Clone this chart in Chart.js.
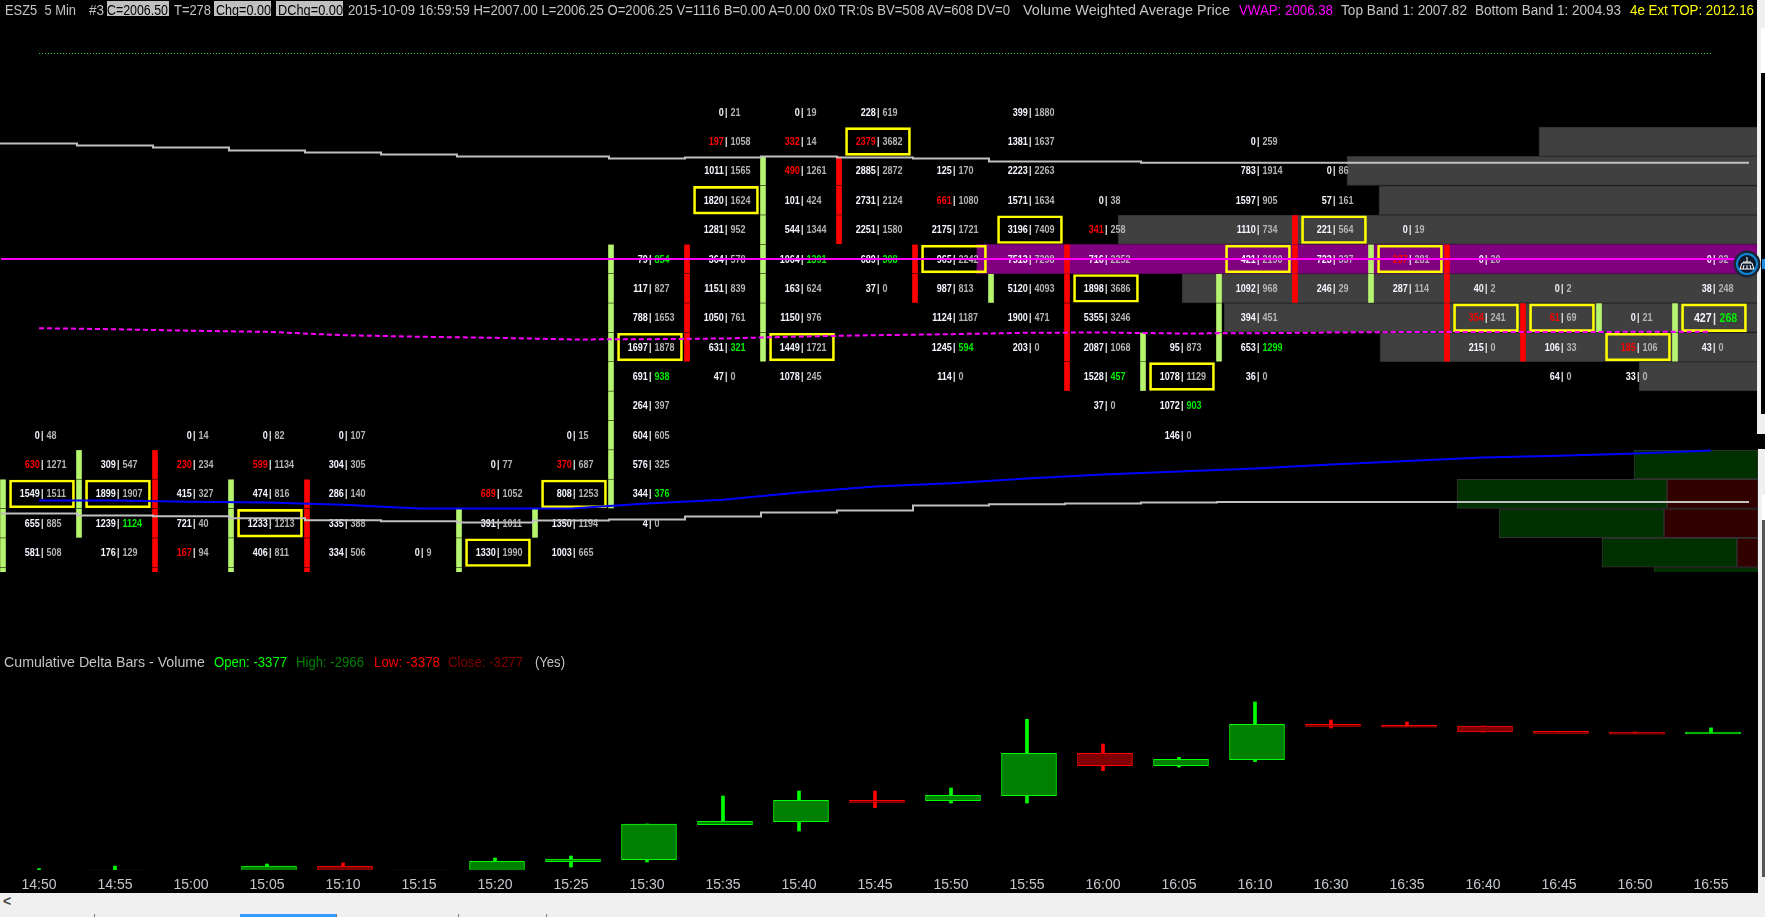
<!DOCTYPE html>
<html>
<head>
<meta charset="utf-8">
<title>ESZ5 5 Min</title>
<script src="https://cdn.jsdelivr.net/npm/chart.js@4/dist/chart.umd.min.js"></script>
<style>
  html, body { margin: 0; padding: 0; background: #000; width: 1765px; height: 917px; overflow: hidden; }
  #wrap { position: absolute; left: 0; top: 0; width: 1758px; height: 893px; }
  .t { position: absolute; white-space: pre; font: 14px 'Liberation Sans', sans-serif; color: #c4c4c4; line-height: 16px; transform-origin: 0 0; }
  .box { position: absolute; }
</style>
</head>
<body>
<div id="wrap"><canvas id="chart" width="1758" height="893"></canvas></div>

<!-- header line -->
<div class="box" style="left:107px;top:1px;width:62px;height:15px;background:#c0c0c0"></div>
<div class="box" style="left:214px;top:1px;width:57px;height:15px;background:#c0c0c0"></div>
<div class="box" style="left:276px;top:1px;width:67px;height:15px;background:#c0c0c0"></div>
<div class="t" data-w="71" style="left:5px;top:2px">ESZ5  5 Min</div>
<div class="t" data-w="15" style="left:89px;top:2px">#3</div>
<div class="t" data-w="61" style="left:107px;top:2px;color:#000">C=2006.50</div>
<div class="t" data-w="37" style="left:174px;top:2px">T=278</div>
<div class="t" data-w="55" style="left:216px;top:2px;color:#000">Chg=0.00</div>
<div class="t" data-w="65" style="left:278px;top:2px;color:#000">DChg=0.00</div>
<div class="t" data-w="662" style="left:348px;top:2px">2015-10-09 16:59:59 H=2007.00 L=2006.25 O=2006.25 V=1116 B=0.00 A=0.00 0x0 TR:0s BV=508 AV=608 DV=0</div>
<div class="t" data-w="207" style="left:1023px;top:2px">Volume Weighted Average Price</div>
<div class="t" data-w="94" style="left:1239px;top:2px;color:#ff00ff">VWAP: 2006.38</div>
<div class="t" data-w="126" style="left:1341px;top:2px">Top Band 1: 2007.82</div>
<div class="t" data-w="146" style="left:1475px;top:2px">Bottom Band 1: 2004.93</div>
<div class="t" data-w="124" style="left:1630px;top:2px;color:#ffff00">4e Ext TOP: 2012.16</div>

<!-- delta pane legend -->
<div class="t" data-w="201" style="left:4px;top:654px">Cumulative Delta Bars - Volume</div>
<div class="t" data-w="73" style="left:214px;top:654px;color:#00ff00">Open: -3377</div>
<div class="t" data-w="68" style="left:296px;top:654px;color:#008000">High: -2966</div>
<div class="t" data-w="66" style="left:374px;top:654px;color:#ff0000">Low: -3378</div>
<div class="t" data-w="75" style="left:448px;top:654px;color:#800000">Close: -3277</div>
<div class="t" data-w="30" style="left:535px;top:654px">(Yes)</div>

<!-- window chrome -->
<div class="box" style="left:0;top:893px;width:1765px;height:24px;background:#f0f0f0"></div>
<div class="t" style="left:3px;top:893px;color:#444;font-weight:bold">&lt;</div>
<div class="box" style="left:240px;top:914px;width:96px;height:3px;background:#3399ff"></div>
<div class="box" style="left:94px;top:914px;width:1px;height:3px;background:#777"></div>
<div class="box" style="left:336px;top:914px;width:1px;height:3px;background:#777"></div>
<div class="box" style="left:458px;top:914px;width:1px;height:3px;background:#777"></div>
<div class="box" style="left:546px;top:914px;width:1px;height:3px;background:#777"></div>
<div class="box" style="left:1757px;top:0;width:8px;height:434px;background:#f0f0f0"></div>
<div class="box" style="left:1761px;top:28px;width:4px;height:45px;background:#fff"></div>
<div class="box" style="left:1761px;top:73px;width:4px;height:341px;background:#000"></div>
<div class="box" style="left:1758px;top:449px;width:7px;height:448px;background:#f0f0f0"></div>
<div class="box" style="left:1762px;top:495px;width:3px;height:25px;background:#fff"></div>
<div class="box" style="left:1762px;top:520px;width:3px;height:357px;background:#555"></div>
<div class="box" style="left:1762px;top:259px;width:3px;height:10px;background:#1c8fe0"></div>
<svg class="box" style="left:1733px;top:250px" width="28" height="28" viewBox="0 0 28 28">
  <circle cx="14" cy="14" r="13.5" fill="#1b2636"/>
  <circle cx="14" cy="14" r="10" fill="#0c1a2b" stroke="#0f86d6" stroke-width="2"/>
  <path d="M14 7v5M10 12h8M9 13l-2 6h14l-2-6zM11 15l-1 4M14 15v4M17 15l1 4" stroke="#fff" stroke-width="1" fill="none"/>
</svg>

<script>
const timeLabels = ['14:50','14:55','15:00','15:05','15:10','15:15','15:20','15:25','15:30','15:35','15:40','15:45','15:50','15:55','16:00','16:05','16:10','16:30','16:35','16:40','16:45','16:50','16:55'];

// footprint: highest traded price of each bar, then bid / ask volume per tick going down
const tickSize = 0.25;
const barHighs = [2005.50,2005.25,2005.50,2005.50,2005.50,2004.50,2005.25,2005.50,2007.00,2008.25,2008.25,2008.25,2007.75,2008.25,2007.50,2006.25,2008.00,2007.75,2007.25,2007.00,2006.75,2006.50,2007.00];
const bids = [
  [0,630,1549,655,581],
  [309,1899,1239,176],
  [0,230,415,721,167],
  [0,599,474,1233,406],
  [0,304,286,335,334],
  [0],
  [0,689,391,1330],
  [0,370,808,1350,1003],
  [79,117,788,1697,691,264,604,576,344,4],
  [0,197,1011,1820,1281,364,1151,1050,631,47],
  [0,332,490,101,544,1064,163,1150,1449,1078],
  [228,2379,2885,2731,2251,689,37],
  [125,661,2175,965,987,1124,1245,114],
  [399,1381,2223,1571,3196,7513,5120,1900,203],
  [0,341,716,1898,5355,2087,1528,37],
  [95,1078,1072,146],
  [0,783,1597,1110,421,1092,394,653,36],
  [0,57,221,723,246],
  [0,237,287],
  [0,40,354,215],
  [0,61,106,64],
  [0,185,33],
  [0,38,427,43]
];
const asks = [
  [48,1271,1511,885,508],
  [547,1907,1124,129],
  [14,234,327,40,94],
  [82,1134,816,1213,811],
  [107,305,140,388,506],
  [9],
  [77,1052,1011,1990],
  [15,687,1253,1194,665],
  [854,827,1653,1878,938,397,605,325,376,0],
  [21,1058,1565,1624,952,578,839,761,321,0],
  [19,14,1261,424,1344,1391,624,976,1721,245],
  [619,3682,2872,2124,1580,308,0],
  [170,1080,1721,2242,813,1187,594,0],
  [1880,1637,2263,1634,7409,7298,4093,471,0],
  [38,258,2252,3686,3246,1068,457,0],
  [873,1129,903,0],
  [259,1914,905,734,2190,968,451,1299,0],
  [86,161,564,337,29],
  [19,281,114],
  [20,2,241,0],
  [2,69,33,0],
  [21,106,0],
  [92,248,268,0]
];

// [bar, price] of the flagged cells
const sellImbalance = [[0,2005.25],[2,2005.25],[2,2004.50],[3,2005.25],[6,2005.00],[7,2005.25],[9,2008.00],[10,2008.00],[10,2007.75],[11,2008.00],[12,2007.50],[14,2007.25],[18,2007.00],[19,2006.50],[20,2006.50],[21,2006.25]];
const buyImbalance = [[1,2004.75],[8,2007.00],[8,2006.00],[8,2005.00],[9,2006.25],[10,2007.00],[11,2007.00],[12,2006.25],[14,2006.00],[15,2005.75],[16,2006.25],[22,2006.50]];
const boxedCells = [[0,2005.00],[1,2005.00],[3,2004.75],[6,2004.50],[7,2005.00],[8,2006.25],[9,2007.50],[10,2006.25],[11,2008.00],[12,2007.00],[13,2007.25],[14,2006.75],[15,2006.00],[16,2007.00],[17,2007.25],[18,2007.00],[19,2006.50],[20,2006.50],[21,2006.25],[22,2006.50]];

// candle bodies, one tick per block
const candleOpen = [2004.25,2004.75,2005.25,2004.25,2005.00,null,2004.25,2004.75,2005.00,2007.00,2006.25,2007.75,2007.00,2006.75,2007.00,2006.00,2006.25,2007.25,2006.75,2007.00,2006.50,2006.50,2006.25];
const candleClose = [2005.00,2005.25,2004.25,2005.00,2004.25,null,2004.75,2004.75,2007.00,2006.25,2007.75,2007.25,2006.75,2006.75,2006.00,2006.25,2006.75,2006.75,2007.00,2006.25,2006.25,2006.50,2006.50];

// vwap and bands
const topBand = [2007.992,2007.984,2007.967,2007.950,2007.924,2007.907,2007.890,2007.873,2007.873,2007.856,2007.864,2007.873,2007.864,2007.856,2007.830,2007.830,2007.82,2007.82,2007.82,2007.82,2007.82,2007.82,2007.82];
const bottomBand = [2004.833,2004.833,2004.816,2004.810,2004.793,2004.776,2004.768,2004.756,2004.773,2004.782,2004.807,2004.842,2004.859,2004.901,2004.912,2004.918,2004.927,2004.93,2004.93,2004.93,2004.93,2004.93,2004.93];
const vwap = [2006.411,2006.402,2006.389,2006.380,2006.351,2006.338,2006.329,2006.315,2006.317,2006.323,2006.340,2006.351,2006.360,2006.372,2006.374,2006.366,2006.368,2006.374,2006.378,2006.378,2006.378,2006.38,2006.38];
const extBand = [2004.944,2004.944,2004.933,2004.927,2004.907,2004.876,2004.876,2004.876,2004.918,2004.950,2005.012,2005.063,2005.091,2005.131,2005.165,2005.191,2005.216,2005.250,2005.280,2005.310,2005.324,2005.344,2005.370];
const pocLine = 2007.00;
const dottedLevel = 2008.75;

// volume profile on the right
const profilePrices = [2008.00,2007.75,2007.50,2007.25,2006.75,2006.50,2006.25,2006.00];
const profileVolume = [219,411,379,640,576,534,378,119];
const pocVolume = 781;
const lowPrices = [2005.25,2005.00,2004.75,2004.50,2004.25];
const lowSell = [0,91,94,21,0];
const lowBuy = [124,210,165,135,104];

// cumulative delta candles
const deltaOpen = [-14602,-14152,-14077,-14677,-13327,-14600,-14534,-13005,-12854,-10229,-10005,-8400,-8430,-8055,-4875,-5805,-5354,-2700,-2774,-2827,-3230,-3286,-3377];
const deltaClose = [-13777,-14077,-14902,-13327,-14527,-14590,-12974,-12802,-10177,-9975,-8400,-8415,-8025,-4875,-5805,-5325,-2700,-2797,-2880,-3277,-3310,-3377,-3277];
const deltaHigh = [-13529,-13327,-14002,-13177,-13102,-14400,-12727,-12577,-10177,-8077,-7702,-7702,-7477,-2325,-4177,-5175,-1027,-2377,-2527,-2827,-3230,-3286,-2966];
const deltaLow = [-14752,-14227,-15000,-14800,-14600,-14700,-14600,-13402,-13027,-10229,-10702,-8955,-8602,-8602,-6180,-5902,-5504,-2977,-2880,-3277,-3310,-3377,-3378];

const BAR_PX = 76;
const RED = '#ff0000', LIME = '#00ff00', CANDLE_UP = '#b6f56e', BAND = '#c0c0c0';
const cellFont = "bold 11px 'Liberation Sans', sans-serif";
const bigCellFont = "bold 13px 'Liberation Sans', sans-serif";
const NARROW = 0.82; // the platform font is narrower than anything installed
// price pane stops at y=572, the delta pane goes on below it
const priceClip = { left: 0, top: 0, right: 0, bottom: -298 };

// squeeze the DOM captions to the width they have on the platform
document.querySelectorAll('.t[data-w]').forEach(el => {
  el.style.transform = 'scaleX(' + (+el.dataset.w / el.getBoundingClientRect().width) + ')';
});

const hasCell = (list, bar, price) => list.some(c => c[0] === bar && c[1] === price);

function narrowText(ctx, text, x, y) {
  ctx.save();
  ctx.translate(x, y);
  ctx.scale(NARROW, 1);
  ctx.fillText(text, 0, 0);
  ctx.restore();
}

// draw the "bid | ask" cells through the price scale, lined up on the separator
const footprintText = {
  id: 'footprintText',
  afterDatasetDraw(chart, args) {
    if (chart.data.datasets[args.index].id !== 'boxes') return;
    const { ctx, scales } = chart;
    ctx.save();
    ctx.textBaseline = 'middle';
    ctx.textAlign = 'left';
    bids.forEach((col, bar) => {
      col.forEach((bid, r) => {
        const price = barHighs[bar] - r * tickSize;
        const big = bar === bids.length - 1 && price === candleClose[bar];
        ctx.font = big ? bigCellFont : cellFont;
        const bidText = String(bid), askText = String(asks[bar][r]);
        const sep = scales.x.getPixelForValue(bar) + 3;
        const y = scales.y.getPixelForValue(price) + 0.5;
        ctx.fillStyle = hasCell(sellImbalance, bar, price) ? RED : '#f4f6ff';
        narrowText(ctx, bidText, sep - 2.3 - ctx.measureText(bidText).width * NARROW, y);
        ctx.fillStyle = '#e8e8e8';
        narrowText(ctx, '|', sep - 1, y);
        ctx.fillStyle = hasCell(buyImbalance, bar, price) ? '#00ee00' : '#b4b4b4';
        narrowText(ctx, askText, sep + (big ? 5.5 : 4.5), y);
      });
    });
    ctx.restore();
  }
};

// candle blocks, one per tick with a small gap
const candleBlocks = [];
const candleColors = [];
candleOpen.forEach((open, bar) => {
  if (open === null) return;
  const close = candleClose[bar];
  const up = close >= open;
  for (let p = Math.max(open, close); p >= Math.min(open, close); p -= tickSize) {
    candleBlocks.push({ x: bar - 36 / BAR_PX, y: [p - tickSize / 2 + 0.005, p + tickSize / 2 - 0.005] });
    candleColors.push(up ? CANDLE_UP : RED);
  }
});

const stepLine = vals => vals.map((v, i) => ({ x: i - 0.5, y: v })).concat([{ x: vals.length - 0.5, y: vals[vals.length - 1] }]);
const barLine = vals => vals.map((v, i) => ({ x: i, y: v }));
const up = deltaOpen.map((o, i) => deltaClose[i] >= o);

const lineBase = { type: 'line', pointRadius: 0, borderWidth: 2, tension: 0, fill: false, xAxisID: 'x', yAxisID: 'y' };
const profileBase = { type: 'bar', indexAxis: 'y', xAxisID: 'xProfile', yAxisID: 'y', grouped: false, barThickness: 29, clip: priceClip, borderSkipped: false };

const chart = new Chart(document.getElementById('chart'), {
  type: 'bar',
  data: {
    datasets: [
      { ...profileBase, order: 60, backgroundColor: '#404040', borderColor: '#2e2e2e', borderWidth: 1,
        data: profilePrices.map((p, i) => ({ x: [0, profileVolume[i]], y: p })) },
      { ...profileBase, order: 60, backgroundColor: '#800080', borderWidth: 0,
        data: [{ x: [0, pocVolume], y: pocLine }] },
      { ...profileBase, order: 60, backgroundColor: '#330000', borderColor: '#333', borderWidth: 1,
        data: lowPrices.map((p, i) => ({ x: [0, lowSell[i]], y: p })) },
      { ...profileBase, order: 60, backgroundColor: '#003000', borderColor: '#333', borderWidth: 1,
        data: lowPrices.map((p, i) => ({ x: [lowSell[i], lowSell[i] + lowBuy[i]], y: p })) },
      { type: 'bar', order: 50, grouped: false, barThickness: 5, clip: priceClip, xAxisID: 'x', yAxisID: 'y',
        backgroundColor: candleColors, data: candleBlocks },
      { id: 'boxes', type: 'bar', order: 40, grouped: false, barThickness: 65, xAxisID: 'x', yAxisID: 'y',
        backgroundColor: 'transparent', borderColor: '#ffff00', borderWidth: 2, borderSkipped: false,
        data: boxedCells.map(c => ({ x: c[0] + 3 / BAR_PX, y: [c[1] - 0.118, c[1] + 0.118] })) },
      { type: 'bar', order: 30, grouped: false, barThickness: 3, xAxisID: 'x', yAxisID: 'yDelta', clip: 0,
        backgroundColor: up.map(u => u ? LIME : RED),
        data: deltaHigh.map((h, i) => ({ x: i, y: [deltaLow[i], h] })) },
      { type: 'bar', order: 20, grouped: false, barThickness: 55, xAxisID: 'x', yAxisID: 'yDelta', clip: 0,
        minBarLength: 2, borderWidth: 1, borderSkipped: false,
        backgroundColor: up.map(u => u ? '#008000' : '#800000'),
        borderColor: up.map(u => u ? LIME : RED),
        data: deltaOpen.map((o, i) => ({ x: i + 2 / BAR_PX, y: [o, deltaClose[i]] })) },
      { ...lineBase, order: 9, borderColor: BAND, stepped: 'after', data: stepLine(topBand) },
      { ...lineBase, order: 9, borderColor: BAND, stepped: 'after', data: stepLine(bottomBand) },
      { ...lineBase, order: 8, borderColor: '#0000ff', data: barLine(extBand) },
      { ...lineBase, order: 7, borderColor: '#ff00ff', borderDash: [5, 3], data: barLine(vwap) },
      { ...lineBase, order: 6, borderColor: '#ff00ff', data: [{ x: -0.5, y: pocLine }, { x: 22.4, y: pocLine }] },
      { ...lineBase, order: 5, borderColor: '#22cc22', borderWidth: 1, borderDash: [1, 2], data: timeLabels.map((t, i) => ({ x: i, y: dottedLevel })) }
    ]
  },
  options: {
    responsive: false,
    animation: false,
    events: [],
    layout: { padding: 0 },
    plugins: { legend: { display: false }, tooltip: { enabled: false } },
    scales: {
      x: {
        type: 'linear', position: 'bottom', offset: false,
        min: -39 / BAR_PX, max: (1758 - 39) / BAR_PX,
        grid: { display: false, drawTicks: false, offset: false },
        border: { display: false },
        afterFit: s => { s.height = 23; },
        ticks: {
          stepSize: 1, includeBounds: false, autoSkip: false, maxRotation: 0, padding: 7,
          color: '#c4c8cc',
          font: { family: "'Liberation Sans', sans-serif", size: 14 },
          callback: v => timeLabels[v]
        }
      },
      xProfile: { type: 'linear', display: false, reverse: true, min: 0, max: 1758, offset: false, grid: { offset: false } },
      y: { type: 'linear', display: false, min: 2001.7974, max: 2009.2054, offset: false, grid: { offset: false } },
      yDelta: { type: 'linear', display: false, min: -13627, max: 51623, offset: false, grid: { offset: false } }
    }
  },
  plugins: [footprintText]
});
</script>
</body>
</html>
